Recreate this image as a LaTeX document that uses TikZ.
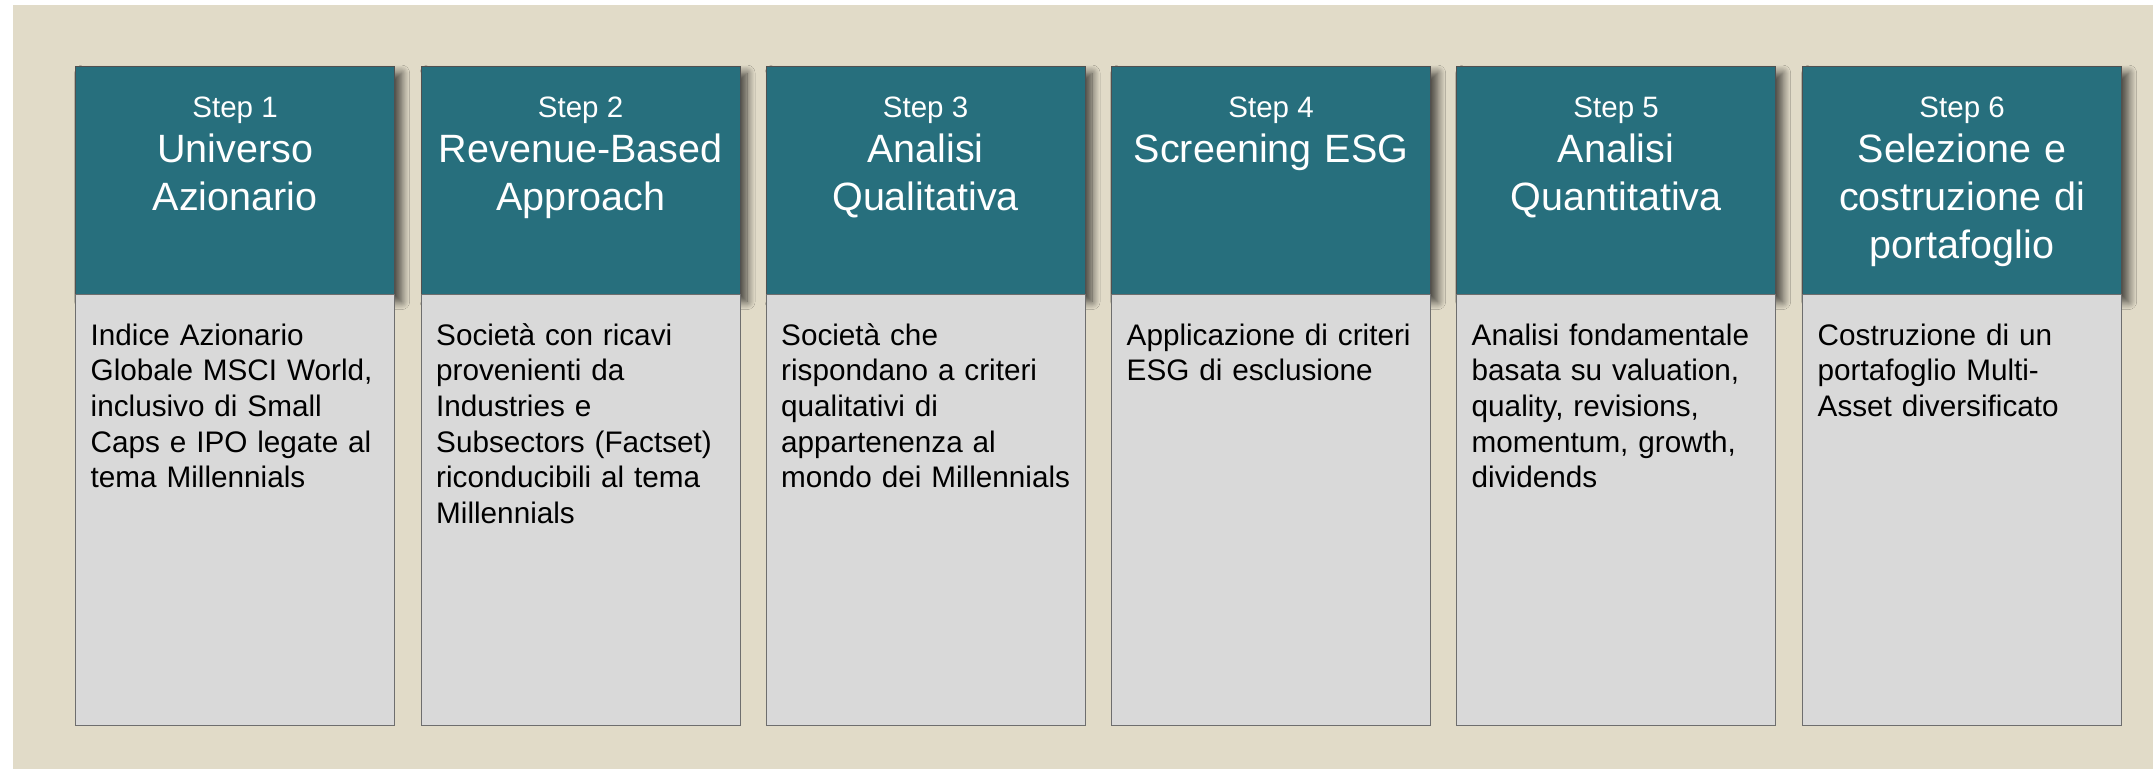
\documentclass[tikz,border=0pt]{standalone}
\usepackage{fontspec}
\setmainfont{Liberation Sans}
\usetikzlibrary{shadows.blur}
\definecolor{bgbeige}{RGB}{225,219,200}
\definecolor{stepteal}{RGB}{39,111,125}
\definecolor{headborder}{RGB}{80,80,80}
\definecolor{bodygray}{RGB}{217,217,217}
\definecolor{bodyborder}{RGB}{110,110,110}
\tikzset{
  headbox/.style={draw=headborder, fill=stepteal, line width=1.2pt, minimum width=319pt, minimum height=228.5pt, inner sep=0pt, anchor=north west,
    blur shadow={shadow xshift=7pt, shadow yshift=-7pt, shadow blur radius=8pt, shadow blur steps=16, shadow opacity=70}},
  bodybox/.style={draw=bodyborder, fill=bodygray, line width=1.2pt, minimum width=319pt, minimum height=431pt, inner sep=0pt, anchor=north west},
  steplbl/.style={anchor=base, inner sep=0pt, text=white, font=\fontsize{29.5}{35}\selectfont},
  titlelbl/.style={anchor=base, inner sep=0pt, text=white, text width=318pt, align=center, font=\fontsize{39.5}{48}\selectfont},
  desclbl/.style={anchor=base west, inner sep=0pt, text=black, text width=340pt, align=left, font=\fontsize{29.7}{35.7}\selectfont},
}
\begin{document}
\begin{tikzpicture}[x=1pt,y=-1pt]
\useasboundingbox (0,0) rectangle (2153,769);
\fill[bgbeige] (13,5) rectangle (2153,769);
\foreach \i/\lx in {1/75,2/420.5,3/765.5,4/1111,5/1456,6/1802}{
  \node[headbox] (h\i) at (\lx,65.5) {};
  \node[bodybox] (b\i) at (\lx,294) {};
}
% step labels
\node[steplbl] (s1) at ([yshift=-51.5pt]h1.north) {Step 1};
\node[steplbl] (s2) at ([yshift=-51.5pt]h2.north) {Step 2};
\node[steplbl] (s3) at ([yshift=-51.5pt]h3.north) {Step 3};
\node[steplbl] (s4) at ([yshift=-51.5pt]h4.north) {Step 4};
\node[steplbl] (s5) at ([yshift=-51.5pt]h5.north) {Step 5};
\node[steplbl] (s6) at ([yshift=-51.5pt]h6.north) {Step 6};
% titles
\node[titlelbl] (t1) at ([yshift=-97pt]h1.north) {Universo\\Azionario};
\node[titlelbl] (t2) at ([yshift=-97pt]h2.north) {Revenue-Based\\Approach};
\node[titlelbl] (t3) at ([yshift=-97pt]h3.north) {Analisi\\Qualitativa};
\node[titlelbl] (t4) at ([yshift=-97pt]h4.north) {Screening ESG};
\node[titlelbl] (t5) at ([yshift=-97pt]h5.north) {Analisi\\Quantitativa};
\node[titlelbl] (t6) at ([yshift=-97pt]h6.north) {Selezione e\\costruzione di\\portafoglio};
% descriptions
\node[desclbl] (d1) at ([xshift=15.5pt,yshift=-51pt]b1.north west) {Indice Azionario\\Globale MSCI World,\\inclusivo di Small\\Caps e IPO legate al\\tema Millennials};
\node[desclbl] (d2) at ([xshift=15.5pt,yshift=-51pt]b2.north west) {Società con ricavi\\provenienti da\\Industries e\\Subsectors (Factset)\\riconducibili al tema\\Millennials};
\node[desclbl] (d3) at ([xshift=15.5pt,yshift=-51pt]b3.north west) {Società che\\rispondano a criteri\\qualitativi di\\appartenenza al\\mondo dei Millennials};
\node[desclbl] (d4) at ([xshift=15.5pt,yshift=-51pt]b4.north west) {Applicazione di criteri\\ESG di esclusione};
\node[desclbl] (d5) at ([xshift=15.5pt,yshift=-51pt]b5.north west) {Analisi fondamentale\\basata su valuation,\\quality, revisions,\\momentum, growth,\\dividends};
\node[desclbl] (d6) at ([xshift=15.5pt,yshift=-51pt]b6.north west) {Costruzione di un\\portafoglio Multi-\\Asset diversificato};
\end{tikzpicture}
\end{document}
